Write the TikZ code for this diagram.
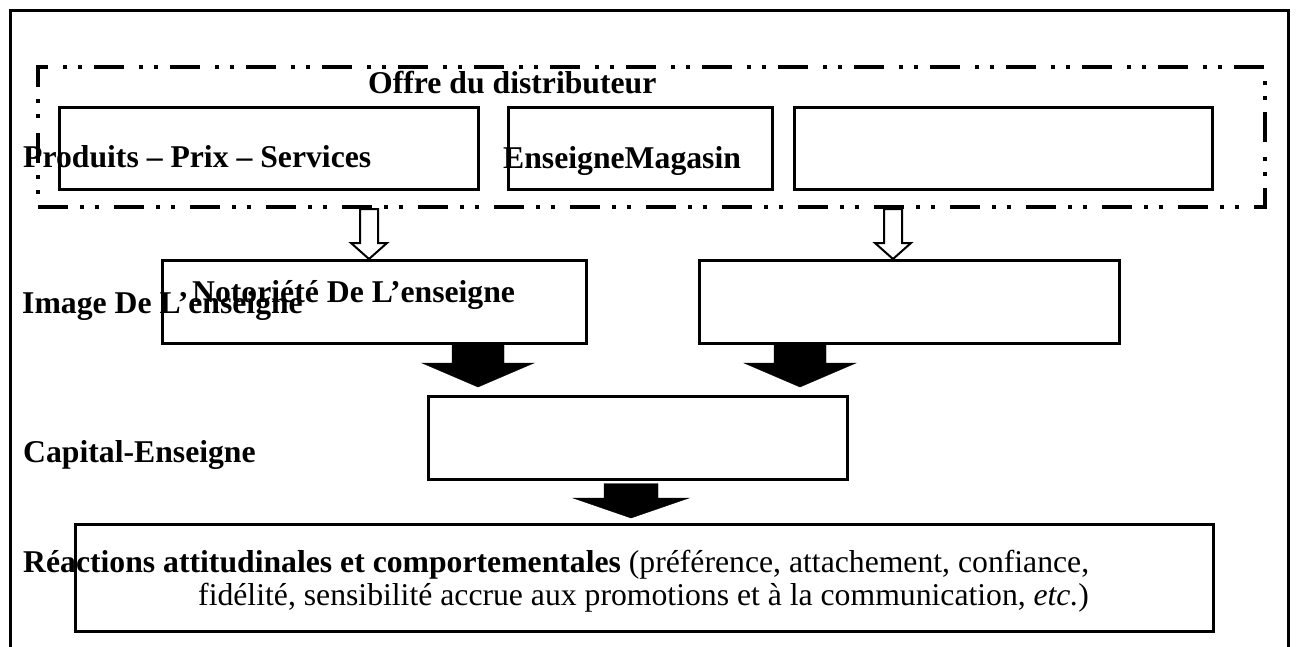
\documentclass[tikz,border=0pt]{standalone}
\usepackage{fontspec}
\setmainfont{Liberation Serif}
\usetikzlibrary{calc}

% fat arrow: style, start, tip, shaft half width, head half width, head length
\newcommand{\blockarrow}[6]{%
  \draw[#1] ($(#2)+(-#4,0)$) -- ($(#3)+(-#4,-#6)$) -- ($(#3)+(-#5,-#6)$) -- (#3)
    -- ($(#3)+(#5,-#6)$) -- ($(#3)+(#4,-#6)$) -- ($(#2)+(#4,0)$) -- cycle;}

\begin{document}
\begin{tikzpicture}[
  x=1pt, y=-1pt,
  font=\fontsize{31.7pt}{33pt}\selectfont,
  frame/.style={line width=3pt},
  box/.style={draw, line width=2.5pt, inner sep=0pt, anchor=north west},
  offre/.style={draw, line width=4pt, inner sep=0pt, anchor=north west,
    dash pattern=on 30pt off 12pt on 4pt off 11pt on 4pt off 15pt},
  lbl/.style={font=\fontsize{31.7pt}{33pt}\selectfont\bfseries, inner sep=0pt, anchor=base west},
  txt/.style={inner sep=0pt, anchor=base west},
  hollow/.style={draw, line width=2pt, fill=white},
  solid/.style={fill=black},
]
\path[use as bounding box, fill=white] (0,0) rectangle (1298,646);
% ---- outer frame ----
\draw[frame] (10,650) -- (10,10) -- (1288,10) -- (1288,650);
% ---- offre du distributeur ----
\node[offre, minimum width=1227pt, minimum height=140pt] (offre) at (36,65) {};
\node[box, minimum width=419pt, minimum height=82pt] (prod) at (58,106) {};
\node[box, minimum width=264pt, minimum height=82pt] (ens) at (507,106) {};
\node[box, minimum width=418pt, minimum height=82pt] (mag) at (793,106) {};
% ---- second row ----
\node[box, minimum width=424pt, minimum height=83pt] (noto) at (161,259) {};
\node[box, minimum width=420pt, minimum height=83pt] (image) at (698,259) {};
% ---- capital and reactions ----
\node[box, minimum width=419pt, minimum height=83pt] (capital) at (427,395) {};
\node[box, minimum width=1138pt, minimum height=107pt] (react) at (74,523) {};
% ---- labels ----
\node[lbl] (loffre) at (368,93) {Offre du distributeur};
\node[lbl] (lprod) at (23,167) {Produits – Prix – Services};
\node[lbl] (lens) at (503,168) {EnseigneMagasin};
\node[lbl] (lnoto) at (192,302) {Notoriété De L’enseigne};
\node[lbl] (limage) at (22,313) {Image De L’enseigne};
\node[lbl] (lcapital) at (23,462) {Capital-Enseigne};
\node[txt] (lreact) at (23,572) {\textbf{Réactions attitudinales et comportementales} (préférence, attachement, confiance,};
\node[txt] (lreact2) at (198,605) {fidélité, sensibilité accrue aux promotions et à la communication, \textit{etc.})};
% ---- arrows ----
\coordinate (h1) at (369,0);
\coordinate (h2) at (893,0);
\coordinate (s1) at (478,0);
\coordinate (s2) at (800,0);
\coordinate (s3) at (631,0);
\blockarrow{hollow}{offre.south -| h1}{noto.north -| h1}{9}{18}{16}
\blockarrow{hollow}{offre.south -| h2}{image.north -| h2}{9}{18}{16}
\blockarrow{solid}{noto.south -| s1}{$(capital.north -| s1)+(0,-8)$}{26}{56}{24}
\blockarrow{solid}{image.south -| s2}{$(capital.north -| s2)+(0,-8)$}{26}{56}{24}
\blockarrow{solid}{$(capital.south -| s3)+(0,3)$}{$(react.north -| s3)+(0,-5)$}{27}{58}{20}
\end{tikzpicture}
\end{document}
